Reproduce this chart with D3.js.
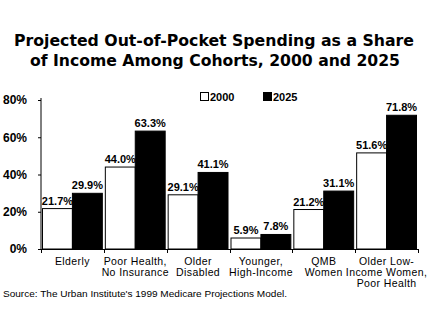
<!DOCTYPE html>
<html>
<head>
<meta charset="utf-8">
<script src="https://cdn.jsdelivr.net/npm/d3@7"></script>
<style>
  body { margin: 0; background: #fff; }
  svg { display: block; }
</style>
</head>
<body>
<div id="chart"></div>
<script>
// chart data
const categories = [
    ["Elderly"],
    ["Poor Health,", "No Insurance"],
    ["Older", "Disabled"],
    ["Younger,", "High-Income"],
    ["QMB", "Women"],
    ["Older Low-", "Income Women,", "Poor Health"]
];
const years = ["2000", "2025"];
const values2000 = [21.7, 44.0, 29.1, 5.9, 21.2, 51.6];
const values2025 = [29.9, 63.3, 41.1, 7.8, 31.1, 71.8];
const yTicks = [0, 20, 40, 60, 80];

const W = 428, H = 322;
const plot = {left: 41, right: 418, top: 100, bottom: 249};

const svg = d3.select("#chart")
    .append("svg")
    .attr("width", W)
    .attr("height", H);

const xScale = d3.scaleBand()
    .domain(d3.range(categories.length))
    .range([plot.left, plot.right])
    .paddingInner(0)
    .paddingOuter(0);

const xInner = d3.scaleBand()
    .domain(years)
    .range([0, xScale.bandwidth()])
    .paddingOuter(0.05);

const yScale = d3.scaleLinear()
    .domain([0, 80])
    .range([plot.bottom, plot.top]);

const fill = {"2000": "#ffffff", "2025": "#000000"};

// title
const titleFont = "bold 15px 'DejaVu Sans', sans-serif";
svg.append("text")
    .attr("x", W / 2)
    .attr("y", 46)
    .attr("text-anchor", "middle")
    .style("font", titleFont)
    .attr("textLength", 400)
    .attr("lengthAdjust", "spacingAndGlyphs")
    .text("Projected Out-of-Pocket Spending as a Share");
svg.append("text")
    .attr("x", W / 2 + 1)
    .attr("y", 66)
    .attr("text-anchor", "middle")
    .style("font", titleFont)
    .attr("textLength", 370)
    .attr("lengthAdjust", "spacingAndGlyphs")
    .text("of Income Among Cohorts, 2000 and 2025");

// bars
const groups = svg.append("g")
    .selectAll("g")
    .data(categories.map((c, i) => i))
    .join("g")
    .attr("transform", (i) => `translate(${xScale(i)},0)`);

const series = (i) => [
    {year: "2000", v: values2000[i]},
    {year: "2025", v: values2025[i]}
];

groups.selectAll("rect")
    .data((i) => series(i))
    .join("rect")
    .attr("x", (d) => xInner(d.year))
    .attr("y", (d) => yScale(d.v))
    .attr("width", xInner.bandwidth())
    .attr("height", (d) => yScale(0) - yScale(d.v))
    .attr("fill", (d) => fill[d.year])
    .attr("stroke", "#000")
    .attr("stroke-width", 1);

groups.selectAll("text.val")
    .data((i) => series(i))
    .join("text")
    .attr("class", "val")
    .attr("x", (d) => xInner(d.year) + xInner.bandwidth() / 2)
    .attr("y", (d) => yScale(d.v) - 4)
    .attr("text-anchor", "middle")
    .style("font", "bold 11px 'Liberation Sans', Arial, sans-serif")
    .text((d) => d.v.toFixed(1) + "%");

// y axis
svg.append("g")
    .attr("transform", `translate(${plot.left},0)`)
    .call(d3.axisLeft(yScale).tickValues(yTicks).tickSize(3).tickPadding(11)
        .tickFormat((d) => d + "%"))
    .call((g) => g.selectAll("text")
        .style("font", "bold 12px 'Liberation Sans', Arial, sans-serif")
        .attr("fill", "#000"))
    .call((g) => g.select(".domain").attr("d", `M0,${plot.top - 2}V${plot.bottom}`));

// x axis
const xAxis = svg.append("g");
xAxis.append("line")
    .attr("x1", plot.left).attr("x2", plot.right)
    .attr("y1", plot.bottom + 0.5).attr("y2", plot.bottom + 0.5)
    .attr("stroke", "#000");
xAxis.selectAll("line.tick")
    .data(d3.range(categories.length + 1))
    .join("line")
    .attr("class", "tick")
    .attr("x1", (i) => Math.round(plot.left + i * xScale.step()) + 0.5)
    .attr("x2", (i) => Math.round(plot.left + i * xScale.step()) + 0.5)
    .attr("y1", plot.bottom)
    .attr("y2", plot.bottom + 4)
    .attr("stroke", "#000");

const catLabels = xAxis.selectAll("text.cat")
    .data(categories.map((c, i) => i))
    .join("text")
    .attr("class", "cat")
    .attr("text-anchor", "middle")
    .attr("transform", (i) => `translate(${xScale(i) + xScale.bandwidth() / 2},265)`)
    .style("font", "10.5px 'Liberation Sans', Arial, sans-serif")
    .style("letter-spacing", "0.4px");
catLabels.selectAll("tspan")
    .data((i) => categories[i])
    .join("tspan")
    .attr("x", 0)
    .attr("y", (d, j) => j * 11)
    .text((d) => d);

// legend
const legend = svg.append("g");
const legX = [200, 263];
years.forEach((yr, k) => {
    legend.append("rect")
        .attr("x", legX[k] + 0.5)
        .attr("y", 92.5)
        .attr("width", 8)
        .attr("height", 8)
        .attr("fill", fill[yr])
        .attr("stroke", "#000");
    legend.append("text")
        .attr("x", legX[k] + 10)
        .attr("y", 101)
        .style("font", "bold 11px 'Liberation Sans', Arial, sans-serif")
        .text(yr);
});

// source
svg.append("text")
    .attr("x", 3)
    .attr("y", 297)
    .style("font", "9.5px 'Liberation Sans', Arial, sans-serif")
    .attr("textLength", 284)
    .attr("lengthAdjust", "spacingAndGlyphs")
    .text("Source: The Urban Institute's 1999 Medicare Projections Model.");
</script>
</body>
</html>
